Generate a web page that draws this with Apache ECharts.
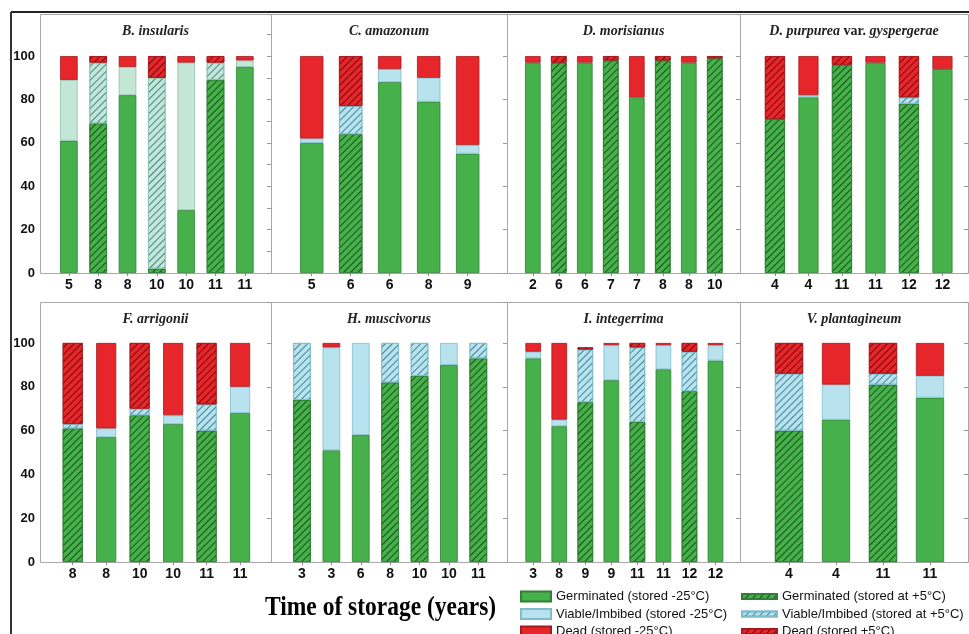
<!DOCTYPE html>
<html><head><meta charset="utf-8">
<script src="https://cdn.jsdelivr.net/npm/echarts@6/dist/echarts.min.js"></script>
<style>html,body{margin:0;padding:0;background:#fff}#c{width:969px;height:634px}</style>
</head><body><div id="c"></div>
<script>
// ---- data ----
const bInsularisYears = ['5','8','8','10','10','11','11'];
const bInsularisStorage = ['-25','+5','-25','+5','-25','+5','-25'];
const bInsularisGerminated = [61,69,82,2,29,89,95];
const bInsularisViable = [28,28,13,88,68,8,3];
const bInsularisDead = [11,3,5,10,3,3,2];

const cAmazonumYears = ['5','6','6','8','9'];
const cAmazonumStorage = ['-25','+5','-25','-25','-25'];
const cAmazonumGerminated = [60,64,88,79,55];
const cAmazonumViable = [2,13,6,11,4];
const cAmazonumDead = [38,23,6,10,41];

const dMorisianusYears = ['2','6','6','7','7','8','8','10'];
const dMorisianusStorage = ['-25','+5','-25','+5','-25','+5','-25','+5'];
const dMorisianusGerminated = [97,97,97,98,81,98,97,99];
const dMorisianusViable = [0,0,0,0,0,0,0,0];
const dMorisianusDead = [3,3,3,2,19,2,3,1];

const dPurpureaYears = ['4','4','11','11','12','12'];
const dPurpureaStorage = ['+5','-25','+5','-25','+5','-25'];
const dPurpureaGerminated = [71,81,96,97,78,94];
const dPurpureaViable = [0,1,0,0,3,0];
const dPurpureaDead = [29,18,4,3,19,6];

const fArrigoniiYears = ['8','8','10','10','11','11'];
const fArrigoniiStorage = ['+5','-25','+5','-25','+5','-25'];
const fArrigoniiGerminated = [61,57,67,63,60,68];
const fArrigoniiViable = [2,4,3,4,12,12];
const fArrigoniiDead = [37,39,30,33,28,20];

const hMuscivorusYears = ['3','3','6','8','10','10','11'];
const hMuscivorusStorage = ['+5','-25','-25','+5','+5','-25','+5'];
const hMuscivorusGerminated = [74,51,58,82,85,90,93];
const hMuscivorusViable = [26,47,42,18,15,10,7];
const hMuscivorusDead = [0,2,0,0,0,0,0];

const iIntegerrimaYears = ['3','8','9','9','11','11','12','12'];
const iIntegerrimaStorage = ['-25','-25','+5','-25','+5','-25','+5','-25'];
const iIntegerrimaGerminated = [93,62,73,83,64,88,78,92];
const iIntegerrimaViable = [3,3,24,16,34,11,18,7];
const iIntegerrimaDead = [4,35,1,1,2,1,4,1];

const vPlantagineumYears = ['4','4','11','11'];
const vPlantagineumStorage = ['+5','-25','+5','-25'];
const vPlantagineumGerminated = [60,65,81,75];
const vPlantagineumViable = [26,16,5,10];
const vPlantagineumDead = [14,19,14,15];

const yTicks = [0,20,40,60,80,100];
const legendCold = ['Germinated (stored -25°C)','Viable/Imbibed (stored -25°C)','Dead (stored -25°C)'];
const legendWarm = ['Germinated (stored at +5°C)','Viable/Imbibed (stored at +5°C)','Dead (stored +5°C)'];
const axisTitle = 'Time of storage (years)';

// ---- layout ----
const rows = [
  {top:14, bottomPx:273, max:119.4, titleY:24},
  {top:302, bottomPx:562, max:118.7, titleY:312}
];
const panels = [
  {title:'{i|B. insularis}', years:bInsularisYears, st:bInsularisStorage, g:bInsularisGerminated, v:bInsularisViable, d:bInsularisDead, row:0, col:0, frame:[40,271], band:[54.2,259.5], mint:true, rt:10},
  {title:'{i|C. amazonum}', years:cAmazonumYears, st:cAmazonumStorage, g:cAmazonumGerminated, v:cAmazonumViable, d:cAmazonumDead, row:0, col:1, frame:[271,507], band:[292.2,487.2]},
  {title:'{i|D. morisianus}', years:dMorisianusYears, st:dMorisianusStorage, g:dMorisianusGerminated, v:dMorisianusViable, d:dMorisianusDead, row:0, col:2, frame:[507,740], band:[519.8,727.8]},
  {title:'{i|D. purpurea} {n|var.} {i|gyspergerae}', years:dPurpureaYears, st:dPurpureaStorage, g:dPurpureaGerminated, v:dPurpureaViable, d:dPurpureaDead, row:0, col:3, frame:[740,968], band:[758.2,959.2]},
  {title:'{i|F. arrigonii}', years:fArrigoniiYears, st:fArrigoniiStorage, g:fArrigoniiGerminated, v:fArrigoniiViable, d:fArrigoniiDead, row:1, col:0, frame:[40,271], band:[56,256.8]},
  {title:'{i|H. muscivorus}', years:hMuscivorusYears, st:hMuscivorusStorage, g:hMuscivorusGerminated, v:hMuscivorusViable, d:hMuscivorusDead, row:1, col:1, frame:[271,507], band:[287.3,493]},
  {title:'{i|I. integerrima}', years:iIntegerrimaYears, st:iIntegerrimaStorage, g:iIntegerrimaGerminated, v:iIntegerrimaViable, d:iIntegerrimaDead, row:1, col:2, frame:[507,740], band:[520.2,728.5]},
  {title:'{i|V. plantagineum}', years:vPlantagineumYears, st:vPlantagineumStorage, g:vPlantagineumGerminated, v:vPlantagineumViable, d:vPlantagineumDead, row:1, col:3, frame:[740,968], band:[765.5,953.5]}
];

const COL = {
  g:{fill:'#46b04a', border:'#2f7f35', hatch:'rgba(10,50,10,0.75)'},
  v:{fill:'#b8e2ed', border:'#7fbccb', hatch:'rgba(20,100,120,0.75)'},
  d:{fill:'#e6262b', border:'#a31a1e', hatch:'rgba(90,0,0,0.8)'}
};
const MINT = '#c3e6d6';
const W = 969, H = 634;
const LBL = {fontFamily:'Liberation Sans, Arial', fontWeight:'bold', color:'#111'};

function decal(c){
  return {symbol:'rect', symbolSize:1, dashArrayX:[1,0], dashArrayY:[1,4], rotation:-Math.PI/4, color:c};
}

const grid=[], xAxis=[], yAxis=[], series=[], title=[], graphic=[];
panels.forEach((p,i)=>{
  const r = rows[p.row];
  grid.push({left:p.band[0], right:W-p.band[1], top:r.top, bottom:H-r.bottomPx, containLabel:false});
  xAxis.push({gridIndex:i, type:'category', data:p.years, boundaryGap:true,
    axisLine:{show:false}, axisTick:{show:true, alignWithLabel:true, length:3, lineStyle:{color:'#888'}},
    axisLabel:Object.assign({interval:0, margin:5, fontSize:14}, LBL)});
  yAxis.push({gridIndex:i, type:'value', min:0, max:r.max, interval:20, position:'left', offset:p.band[0]-p.frame[0],
    axisLine:{show:false}, axisTick:{show:false}, splitLine:{show:false},
    axisLabel:Object.assign({show:p.col===0, margin:5, fontSize:13,
      formatter:v=> yTicks.indexOf(v)>=0 ? String(v) : ''}, LBL)});
  yAxis.push({gridIndex:i, type:'value', min:0, max:r.max, interval:p.rt||20, position:'right', offset:p.frame[1]-p.band[1],
    axisLine:{show:false}, axisTick:{show:true, inside:true, length:4, lineStyle:{color:'#999'}},
    axisLabel:{show:false}, splitLine:{show:false}});
  ['-25','+5'].forEach(t=>{
    ['g','v','d'].forEach((k,ki)=>{
      const name = (t==='-25'?legendCold:legendWarm)[ki];
      const data = p[k].map((val,j)=>{
        if (p.st[j]!==t || !val) return '-';
        if (k==='v' && p.mint) return {value:val, itemStyle:{color:MINT, borderColor:'#8cc2aa'}};
        return val;
      });
      const it = {color:COL[k].fill, borderColor:COL[k].border, borderWidth:0.8};
      if (t==='+5') it.decal = decal(COL[k].hatch);
      series.push({type:'bar', name, xAxisIndex:i, yAxisIndex:2*i, stack:'s'+i, barWidth:'60%',
        itemStyle:it, emphasis:{disabled:true}, data});
    });
  });
  title.push({text:p.title, left:(p.frame[0]+p.frame[1])/2, top:r.titleY, textAlign:'center', padding:0,
    textStyle:{fontFamily:'Liberation Serif, Times New Roman', fontWeight:'bold', fontSize:14, color:'#222',
      rich:{i:{fontFamily:'Liberation Serif', fontStyle:'italic', fontWeight:'bold', fontSize:14, color:'#222'},
            n:{fontFamily:'Liberation Serif', fontStyle:'normal', fontWeight:'bold', fontSize:14, color:'#222'}}}});
  graphic.push({type:'rect', silent:true, z:-1, shape:{x:p.frame[0]+0.5, y:r.top+0.5, width:p.frame[1]-p.frame[0], height:r.bottomPx-r.top},
    style:{fill:null, stroke:'#a8a8a8', lineWidth:1}});
});
graphic.push({type:'line', silent:true, shape:{x1:11, y1:12, x2:969, y2:12}, style:{stroke:'#222', lineWidth:2}});
graphic.push({type:'line', silent:true, shape:{x1:11, y1:12, x2:11, y2:634}, style:{stroke:'#333', lineWidth:2}});
graphic.push({type:'text', silent:true, x:265, y:608, scaleX:0.87,
  style:{text:axisTitle, font:'bold 27px "Liberation Serif"', fill:'#000', verticalAlign:'middle', align:'left'}});

const legTxt = {fontFamily:'Liberation Sans, Arial', fontSize:13, color:'#111'};
const option = {
  animation:false,
  backgroundColor:'#fff',
  title, grid, xAxis, yAxis, series, graphic,
  legend:[
    {data:legendCold, orient:'vertical', icon:'rect', left:520, top:590, width:220, height:70, itemWidth:30, itemHeight:10, itemGap:4.5, padding:0, textStyle:legTxt, selectedMode:false},
    {data:legendWarm, orient:'vertical', icon:'rect', left:741, top:590, width:228, height:70, itemWidth:35, itemHeight:5, itemGap:4.5, padding:0, textStyle:legTxt, selectedMode:false}
  ]
};
const chart = echarts.init(document.getElementById('c'), null, {renderer:'canvas'});
chart.setOption(option);
</script></body></html>
